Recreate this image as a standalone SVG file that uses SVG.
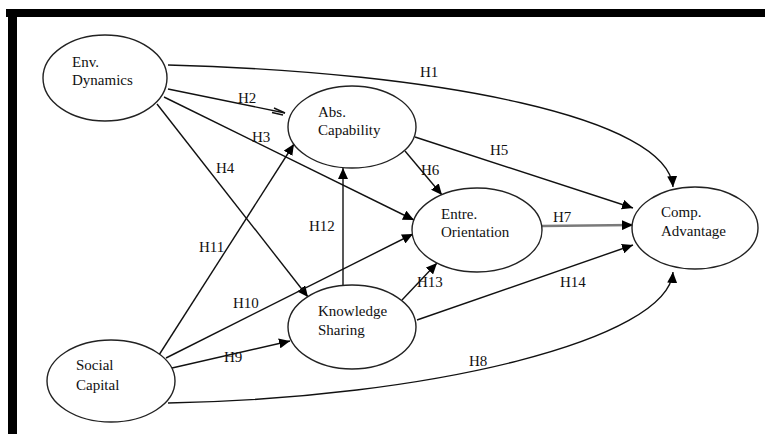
<svg xmlns="http://www.w3.org/2000/svg" width="765" height="434" viewBox="0 0 765 434">
<style>
.node ellipse{fill:#fff;stroke:#222;stroke-width:1.4}
text{font-family:'Liberation Serif','Times New Roman',serif;font-size:15px;fill:#111}
.c{fill:none;stroke:#111;stroke-width:1.4}
.a{marker-end:url(#arr)}
</style>
<defs>
<marker id="arr" markerUnits="userSpaceOnUse" markerWidth="12" markerHeight="10" refX="11" refY="5" orient="auto">
<path d="M0,0 L11,5 L0,10 Z" fill="#000"/>
</marker>
</defs>
<rect width="765" height="434" fill="#fff"/>
<g id="frame">
<rect x="6" y="9" width="759" height="8" fill="#000"/>
<rect x="8" y="9" width="9" height="425" fill="#000"/>
</g>
<g id="connectors">
<path id="h1" class="c a" d="M168,65 C440,72 668,118 673,187"/>
<path id="h2" class="c" d="M168,89 L285,113"/>
<path class="c" d="M274,108 L285,113 M272,112.5 L283,115"/>
<path id="h3" class="c a" d="M164,97 L414,220"/>
<path id="h4" class="c a" d="M157,104 L308,297"/>
<path id="h5" class="c a" d="M415,137 L633,208"/>
<path id="h6" class="c a" d="M405,151 L442,195"/>
<path id="h7" class="c a" style="stroke:#7a7a7a;stroke-width:2.6" d="M542,226 L633,225"/>
<path id="h8" class="c a" d="M168,403 C430,398 668,340 673,272"/>
<path id="h9" class="c a" d="M172,368 L290,341"/>
<path id="h10" class="c a" d="M166,358 L413,234"/>
<path id="h11" class="c a" d="M159,355 L294,144"/>
<path id="h12" class="c a" d="M343,286 L343,168"/>
<path id="h13" class="c a" d="M402,300 L437,263"/>
<path id="h14" class="c a" d="M417,320 L633,245"/>
</g>
<g id="labels" font-family="Liberation Serif, Times New Roman, serif">
<text x="420" y="77">H1</text>
<text x="238" y="103">H2</text>
<text x="252" y="142">H3</text>
<text x="216" y="173">H4</text>
<text x="490" y="155">H5</text>
<text x="421" y="175">H6</text>
<text x="553" y="222">H7</text>
<text x="469" y="366">H8</text>
<text x="224" y="362">H9</text>
<text x="233" y="308">H10</text>
<text x="199" y="252">H11</text>
<text x="309" y="231">H12</text>
<text x="417" y="287">H13</text>
<text x="560" y="287">H14</text>
</g>
<g id="env" class="node">
<ellipse cx="105" cy="78" rx="62" ry="43"/>
<text x="72" y="67">Env.</text>
<text x="72" y="85">Dynamics</text>
</g>
<g id="abs" class="node">
<ellipse cx="352" cy="127" rx="64" ry="41"/>
<text x="318" y="117">Abs.</text>
<text x="318" y="135">Capability</text>
</g>
<g id="entre" class="node">
<ellipse cx="477" cy="230" rx="65" ry="42"/>
<text x="441" y="219">Entre.</text>
<text x="441" y="237">Orientation</text>
</g>
<g id="comp" class="node">
<ellipse cx="695" cy="228" rx="63" ry="41"/>
<text x="661" y="217">Comp.</text>
<text x="661" y="236">Advantage</text>
</g>
<g id="know" class="node">
<ellipse cx="352" cy="327" rx="64" ry="42"/>
<text x="318" y="316">Knowledge</text>
<text x="318" y="335">Sharing</text>
</g>
<g id="social" class="node">
<ellipse cx="111" cy="381" rx="64" ry="41"/>
<text x="76" y="370">Social</text>
<text x="76" y="390">Capital</text>
</g>
</svg>
